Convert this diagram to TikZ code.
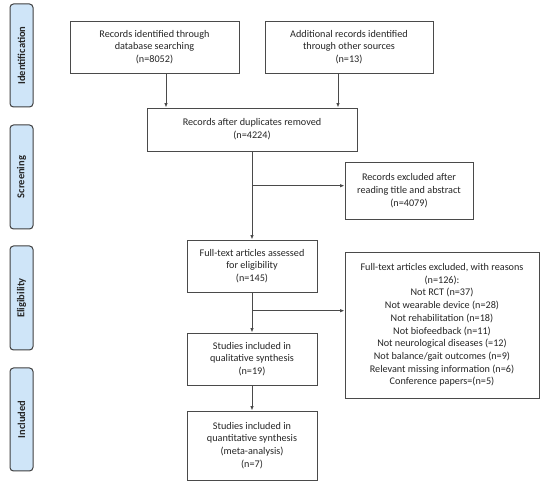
\documentclass[tikz,border=0pt]{standalone}
\usepackage{fontspec}
\setmainfont{Carlito}
\usetikzlibrary{arrows.meta}
\definecolor{sidefill}{HTML}{CFE5F8}
\definecolor{sideline}{HTML}{404040}
\definecolor{boxline}{HTML}{4A4A4A}
\definecolor{txt}{HTML}{262626}
\tikzset{
  box/.style={draw=boxline, line width=0.9pt, align=center, inner sep=2pt,
    font=\fontsize{10.2}{12.7}\selectfont, text=txt},
  side/.style={draw=sideline, fill=sidefill, line width=1pt, rounded corners=3.5pt,
    minimum width=23pt, inner sep=0pt},
  sidetext/.style={rotate=90, font=\fontsize{10.5}{12}\selectfont\bfseries, text=txt},
  arr/.style={draw=boxline, line width=0.9pt, -{Latex[length=4.5pt,width=3.5pt]}}
}
\begin{document}
\begin{tikzpicture}[x=1pt,y=-1pt]
\useasboundingbox[fill=white] (0,0) rectangle (550,486);
% side labels
\node[side, minimum height=103pt] (s1) at (21.5,55.5) {};
\node[sidetext] (t1) at (s1) {Identification};
\node[side, minimum height=104pt] (s2) at (21.5,177) {};
\node[sidetext] (t2) at (s2) {Screening};
\node[side, minimum height=104pt] (s3) at (21.5,298) {};
\node[sidetext] (t3) at (s3) {Eligibility};
\node[side, minimum height=103pt] (s4) at (21.5,419.5) {};
\node[sidetext] (t4) at (s4) {Included};
% boxes
\node[box, minimum width=169pt, minimum height=52pt] (b1) at (154.5,47)
  {Records identified through\\database searching\\(n=8052)};
\node[box, minimum width=168pt, minimum height=52pt] (b2) at (349,47)
  {Additional records identified\\through other sources\\(n=13)};
\node[box, minimum width=210pt, minimum height=43pt] (dup) at (252,129.5)
  {Records after duplicates removed\\(n=4224)};
\node[box, minimum width=128pt, minimum height=57pt] (ex1) at (409,190.5)
  {Records excluded after\\reading title and abstract\\(n=4079)};
\node[box, minimum width=130pt, minimum height=52pt] (full) at (252,266)
  {Full-text articles assessed\\for eligibility\\(n=145)};
\node[box, minimum width=194pt, minimum height=146pt] (ex2) at (442,325)
  {Full-text articles excluded, with reasons\\(n=126):\\Not RCT (n=37)\\Not wearable device (n=28)\\Not rehabilitation (n=18)\\Not biofeedback (n=11)\\Not neurological diseases (=12)\\Not balance/gait outcomes (n=9)\\Relevant missing information (n=6)\\Conference papers=(n=5)};
\node[box, minimum width=130pt, minimum height=52pt] (qual) at (252,359)
  {Studies included in\\qualitative synthesis\\(n=19)};
\node[box, minimum width=130pt, minimum height=69pt] (quant) at (252,445.5)
  {Studies included in\\quantitative synthesis\\(meta-analysis)\\(n=7)};
% connectors
\draw[arr] ([xshift=11.5pt]b1.south) -- ([xshift=11.5pt]b1.south |- dup.north);
\draw[arr] ([xshift=-11pt]b2.south) -- ([xshift=-11pt]b2.south |- dup.north);
\coordinate (j1) at (252,185.7);
\coordinate (j2) at (252,310.7);
\draw[arr] (dup.south) -- (full.north);
\draw[arr] (j1) -- (j1 -| ex1.west);
\draw[arr] (full.south) -- (qual.north);
\draw[arr] (j2) -- (j2 -| ex2.west);
\draw[arr] (qual.south) -- (quant.north);
\end{tikzpicture}
\end{document}
